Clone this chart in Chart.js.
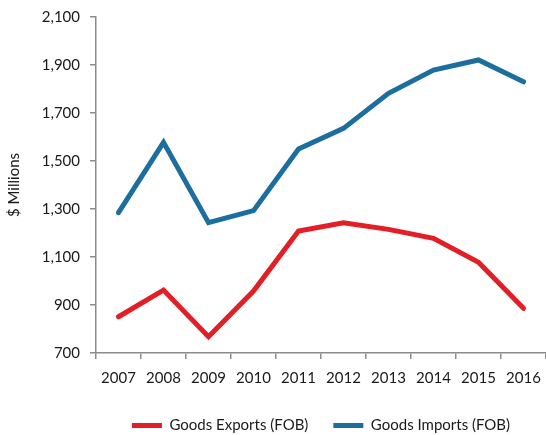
<!DOCTYPE html>
<html>
<head>
<meta charset="utf-8">
<script src="https://cdn.jsdelivr.net/npm/chart.js@4/dist/chart.umd.min.js"></script>
<style>
  html, body { margin: 0; padding: 0; background: #fff; }
  #wrap { width: 546px; height: 435px; }
</style>
</head>
<body>
<div id="wrap"><canvas id="trade"></canvas></div>
<script>
const years = ['2007', '2008', '2009', '2010', '2011', '2012', '2013', '2014', '2015', '2016'];
const goodsExports = [851, 962, 768, 958, 1208, 1243, 1215, 1178, 1078, 886];
const goodsImports = [1285, 1578, 1243, 1293, 1550, 1636, 1782, 1879, 1921, 1830];
const yTicks = [700, 900, 1100, 1300, 1500, 1700, 1900, 2100];

const axisGrey = '#8c8c8c';
const textColor = '#1a1a1a';
const fontFamily = 'Lato, "Open Sans", sans-serif';

const ctx = document.getElementById('trade').getContext('2d');
new Chart(ctx, {
  type: 'line',
  data: {
    labels: years,
    datasets: [
      {
        label: 'Goods Exports (FOB)',
        data: goodsExports,
        borderColor: '#e31e26',
        backgroundColor: '#e31e26',
        borderWidth: 5,
        borderCapStyle: 'round',
        borderJoinStyle: 'miter',
        pointRadius: 0,
        tension: 0
      },
      {
        label: 'Goods Imports (FOB)',
        data: goodsImports,
        borderColor: '#1c6e9f',
        backgroundColor: '#1c6e9f',
        borderWidth: 5,
        borderCapStyle: 'round',
        borderJoinStyle: 'miter',
        pointRadius: 0,
        tension: 0
      }
    ]
  },
  options: {
    responsive: true,
    maintainAspectRatio: false,
    animation: false,
    layout: { padding: { top: 0, right: 0, left: 5, bottom: 0 } },
    plugins: {
      tooltip: { enabled: false },
      legend: {
        position: 'bottom',
        fullSize: false,   // centre the legend under the plot area
        maxHeight: 42,
        labels: {
          usePointStyle: true,
          pointStyle: 'line',
          pointStyleWidth: 30,
          color: textColor,
          font: { family: fontFamily, size: 15 },
          padding: 25
        }
      }
    },
    scales: {
      x: {
        offset: true,
        afterFit: (scale) => {
          scale.height = 40;
          scale.paddingLeft = 0;
          scale.paddingRight = 0;
        },
        border: { display: true, color: axisGrey, width: 1.5 },
        grid: { offset: true, drawOnChartArea: false, drawTicks: true, tickLength: 6, color: axisGrey, lineWidth: 1.5 },
        ticks: { color: textColor, font: { family: fontFamily, size: 15 }, padding: 10, maxRotation: 0 }
      },
      y: {
        min: 700,
        max: 2100,
        afterBuildTicks: (axis) => { axis.ticks = yTicks.map(v => ({ value: v })); },
        afterFit: (scale) => {
          scale.width = 91;
          scale.paddingTop = 17;
        },
        border: { display: true, color: axisGrey, width: 1.5 },
        grid: { drawOnChartArea: false, drawTicks: true, tickLength: 6, color: axisGrey, lineWidth: 1.5 },
        ticks: {
          color: textColor,
          font: { family: fontFamily, size: 15 },
          padding: 10,
          callback: (v) => v.toLocaleString('en-US')
        },
        title: {
          display: true,
          text: '$ Millions',
          color: textColor,
          font: { family: fontFamily, size: 15 },
          padding: { top: 0, bottom: 18 }
        }
      }
    }
  }
});
</script>
</body>
</html>
